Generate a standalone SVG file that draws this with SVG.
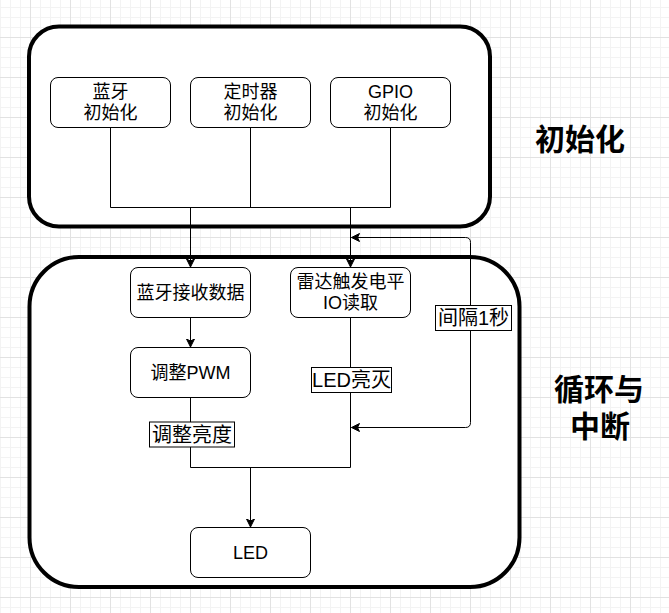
<svg xmlns="http://www.w3.org/2000/svg" width="669" height="613" viewBox="0 0 669 613">
<defs>
<style>
.container{fill:#ffffff;stroke:#000000;stroke-width:4}
.node{fill:#ffffff;stroke:#000000;stroke-width:1}
.t{font-family:"Liberation Sans","Noto Sans CJK SC",sans-serif;font-size:18px;fill:#000000;text-anchor:middle}
.lbl{font-family:"Liberation Sans","Noto Sans CJK SC",sans-serif;font-size:20px;fill:#000000;text-anchor:middle}
.lblbox{fill:#ffffff;stroke:#000000;stroke-width:1}
.title{font-family:"Liberation Sans","Noto Sans CJK SC",sans-serif;font-size:30px;font-weight:bold;fill:#000000;text-anchor:middle}
.edge{fill:none;stroke:#000000;stroke-width:1}
</style>
<pattern id="grid" patternUnits="userSpaceOnUse" x="30" y="37" width="40" height="40">
<rect x="10" y="0" width="1" height="40" fill="#f3f3f3"/>
<rect x="20" y="0" width="1" height="40" fill="#f3f3f3"/>
<rect x="30" y="0" width="1" height="40" fill="#f3f3f3"/>
<rect x="0" y="10" width="40" height="1" fill="#f3f3f3"/>
<rect x="0" y="20" width="40" height="1" fill="#f3f3f3"/>
<rect x="0" y="30" width="40" height="1" fill="#f3f3f3"/>
<rect x="0" y="0" width="1" height="40" fill="#e2e2e2"/>
<rect x="0" y="0" width="40" height="1" fill="#e2e2e2"/>
</pattern>
<marker id="arrow" markerUnits="userSpaceOnUse" markerWidth="10" markerHeight="10" refX="8" refY="4" orient="auto-start-reverse">
<path d="M0,0 L8,4 L0,8 L2,4 Z" fill="#000000" stroke="#000000" stroke-width="1"/>
</marker>
</defs>
<rect x="0" y="0" width="669" height="613" fill="#ffffff"/>
<rect x="0" y="0" width="669" height="613" fill="url(#grid)"/>

<g id="container-init">
<rect class="container" x="29" y="26.5" width="461" height="200" rx="30" ry="30"/>
</g>
<g id="container-loop">
<rect class="container" x="29.5" y="257" width="490" height="330" rx="49.5" ry="49.5"/>
</g>

<g id="connectors">
<path class="edge" d="M110.5,127.5 V207.5 H390.5"/>
<path class="edge" d="M250.5,127.5 V207.5"/>
<path class="edge" d="M390.5,127.5 V207.5"/>
<path class="edge" d="M190.5,207.5 V267" marker-end="url(#arrow)"/>
<path class="edge" d="M350.5,207.5 V267" marker-end="url(#arrow)"/>
<path class="edge" d="M190.5,317.5 V347" marker-end="url(#arrow)"/>
<path class="edge" d="M190.5,397.5 V467.5 H350.5 V317.5"/>
<path class="edge" d="M250.5,467.5 V527" marker-end="url(#arrow)"/>
<path class="edge" d="M351.5,237.5 H465.5 Q470.5,237.5 470.5,242.5 V422.5 Q470.5,427.5 465.5,427.5 H351.5" marker-start="url(#arrow)" marker-end="url(#arrow)"/>
<g id="label-brightness">
<rect class="lblbox" x="149.5" y="422" width="85" height="25"/>
<text class="lbl" x="192" y="442">调整亮度</text>
</g>
<g id="label-led-onoff">
<rect class="lblbox" x="311.5" y="367.5" width="80" height="25"/>
<text class="lbl" x="351.5" y="387">LED亮灭</text>
</g>
<g id="label-interval">
<rect class="lblbox" x="435.5" y="305.5" width="76" height="25"/>
<text class="lbl" x="473.5" y="325">间隔1秒</text>
</g>
</g>

<g id="node-bt-init">
<rect class="node" x="50.5" y="77.5" width="120" height="50" rx="7.5" ry="7.5"/>
<text class="t" x="110.5" y="98">蓝牙</text>
<text class="t" x="110.5" y="118.5">初始化</text>
</g>
<g id="node-timer-init">
<rect class="node" x="190.5" y="77.5" width="120" height="50" rx="7.5" ry="7.5"/>
<text class="t" x="250.5" y="98">定时器</text>
<text class="t" x="250.5" y="118.5">初始化</text>
</g>
<g id="node-gpio-init">
<rect class="node" x="330.5" y="77.5" width="120" height="50" rx="7.5" ry="7.5"/>
<text class="t" x="390.5" y="98">GPIO</text>
<text class="t" x="390.5" y="118.5">初始化</text>
</g>
<g id="node-bt-recv">
<rect class="node" x="130.5" y="267.5" width="120" height="50" rx="7.5" ry="7.5"/>
<text class="t" x="190.5" y="298.5">蓝牙接收数据</text>
</g>
<g id="node-radar">
<rect class="node" x="290.5" y="267.5" width="120" height="50" rx="7.5" ry="7.5"/>
<text class="t" x="350.5" y="288">雷达触发电平</text>
<text class="t" x="350.5" y="309">IO读取</text>
</g>
<g id="node-pwm">
<rect class="node" x="130.5" y="347.5" width="120" height="50" rx="7.5" ry="7.5"/>
<text class="t" x="190.5" y="378.5">调整PWM</text>
</g>
<g id="node-led">
<rect class="node" x="190.5" y="527.5" width="120" height="50" rx="7.5" ry="7.5"/>
<text class="t" x="250.5" y="558.5">LED</text>
</g>

<g id="title-init">
<text class="title" x="580" y="150">初始化</text>
</g>
<g id="title-loop">
<text class="title"><tspan x="599" y="400">循环与</tspan><tspan x="600" y="437">中断</tspan></text>
</g>
</svg>
